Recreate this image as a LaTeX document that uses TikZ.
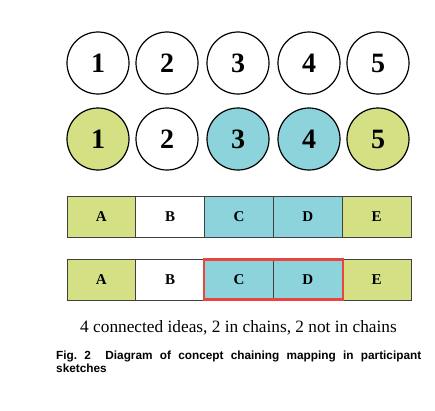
\documentclass[tikz,border=0pt]{standalone}
\usepackage{fontspec}
\setmainfont{Liberation Serif}
\setsansfont{Liberation Sans}
\definecolor{cgreen}{RGB}{212,224,131}
\definecolor{cblue}{RGB}{140,211,220}
\definecolor{cred}{RGB}{232,69,60}
\tikzset{
  idea/.style={circle,draw=black,line width=1.2pt,minimum size=62pt,inner sep=0pt,font=\fontsize{28}{28}\selectfont\bfseries},
  cell/.style={rectangle,draw=black!75,line width=0.9pt,minimum width=68.8pt,minimum height=41pt,inner sep=0pt,font=\fontsize{15}{15}\selectfont\bfseries},
}
\begin{document}
\begin{tikzpicture}[x=1pt,y=-1pt]
\useasboundingbox (0,0) rectangle (435,410);
% row 1 circles
\foreach \i/\x in {1/98,2/167,3/238,4/309,5/378}{
  \node[idea] (a\i) at (\x,63) {\i};
}
% row 2 circles
\node[idea,fill=cgreen] (b1) at (98,139) {1};
\node[idea] (b2) at (167,139) {2};
\node[idea,fill=cblue] (b3) at (238,139) {3};
\node[idea,fill=cblue] (b4) at (309,139) {4};
\node[idea,fill=cgreen] (b5) at (378,139) {5};
% bar 1
\node[cell,fill=cgreen] (r1a) at (101.4,216.5) {A};
\node[cell] (r1b) at (170.2,216.5) {B};
\node[cell,fill=cblue] (r1c) at (239,216.5) {C};
\node[cell,fill=cblue] (r1d) at (307.8,216.5) {D};
\node[cell,fill=cgreen] (r1e) at (376.6,216.5) {E};
% bar 2
\node[cell,fill=cgreen] (r2a) at (101.4,279.5) {A};
\node[cell] (r2b) at (170.2,279.5) {B};
\node[cell,fill=cblue] (r2c) at (239,279.5) {C};
\node[cell,fill=cblue] (r2d) at (307.8,279.5) {D};
\node[cell,fill=cgreen] (r2e) at (376.6,279.5) {E};
\draw[cred,line width=2.6pt] ([shift={(-0.3pt,-0.8pt)}]r2c.north west) rectangle ([shift={(0.3pt,0.8pt)}]r2d.south east);
% text
\node[font=\fontsize{17.3}{19}\selectfont,inner sep=0pt] (t) at (238.5,328) {4 connected ideas, 2 in chains, 2 not in chains};
\node[font=\sffamily\bfseries\fontsize{11.8}{13}\selectfont,text width=365pt,align=justify,inner sep=0pt,anchor=north west] (cap) at (56,351)
  {Fig.~2\hspace{0.6em} Diagram of concept chaining mapping in participant\linebreak sketches};
\end{tikzpicture}
\end{document}
